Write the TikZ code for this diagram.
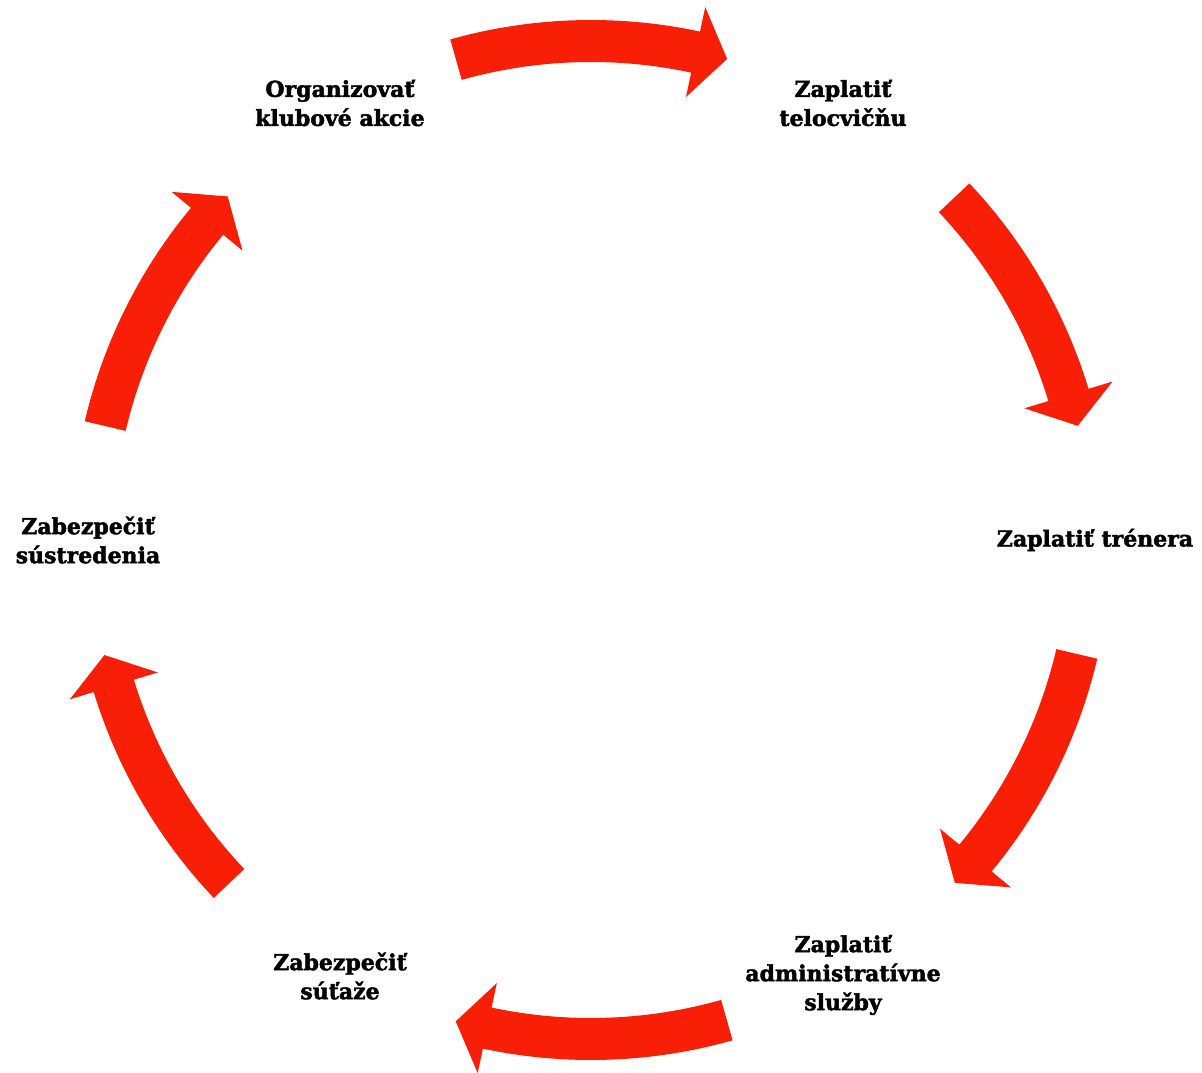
\documentclass[tikz,border=0pt]{standalone}
\usepackage{fontspec}
\setmainfont{DejaVu Serif}
\newfontfamily\heavyfont{DejaVu Serif}[UprightFont=* Bold, FakeBold=2]
\definecolor{arrowred}{RGB}{249,30,6}
\begin{document}
\begin{tikzpicture}[x=1pt,y=1pt,
  lbl/.style={font=\fontsize{22}{29}\selectfont\heavyfont, align=center, inner sep=0pt},
  cyc/.style={fill=arrowred, draw=none}]
\useasboundingbox (0,0) rectangle (1202,1072);
\coordinate (c) at (591,532);
\node[lbl] (n1) at (340,969) {Organizovať\\klubové akcie};
\node[lbl] (n2) at (843,969) {Zaplatiť\\telocvičňu};
\node[lbl] (n3) at (1095,532) {Zaplatiť trénera};
\node[lbl] (n4) at (843,97) {Zaplatiť\\administratívne\\služby};
\node[lbl] (n5) at (340,96) {Zabezpečiť\\súťaže};
\node[lbl] (n6) at (88,532) {Zabezpečiť\\sústredenia};
\foreach \a/\b in {105.7/74.2, 43.3/13.2, -13.2/-43.3, -74.2/-105.7, -136.5/-166.7, 166.8/136.6} {
  \pgfmathsetmacro\h{\b+3.7}
  \fill[cyc, shift={(c)}] (\a:520pt) arc[start angle=\a, end angle=\h, radius=520pt]
    -- (\h:545pt) -- (\b:500pt) -- (\h:453pt) -- (\h:478pt)
    arc[start angle=\h, end angle=\a, radius=478pt] -- cycle;
}
\end{tikzpicture}
\end{document}
